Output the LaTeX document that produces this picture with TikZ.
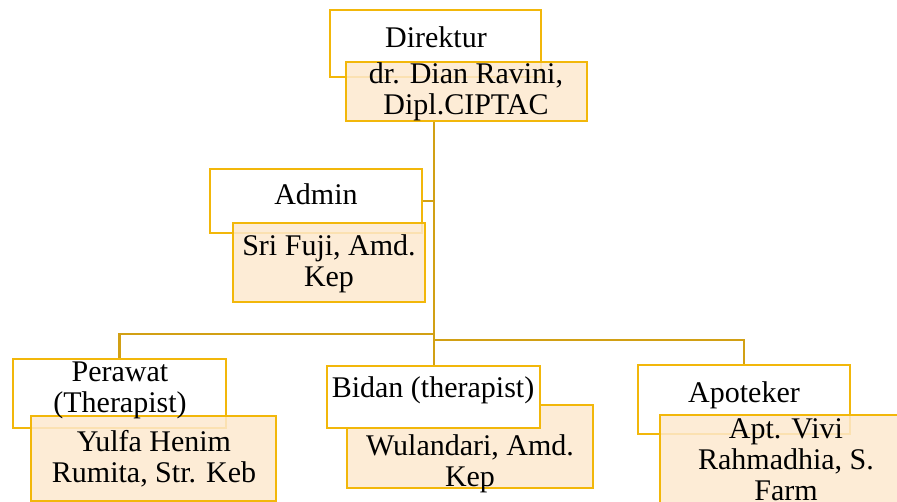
\documentclass[tikz,border=0pt]{standalone}
\usepackage{fontspec}
\setmainfont{Liberation Serif}
\usetikzlibrary{fit,backgrounds}
\definecolor{boxline}{RGB}{242,183,10}
\definecolor{linkline}{RGB}{210,160,20}
\definecolor{namefill}{RGB}{253,233,207}

\begin{document}
\begin{tikzpicture}[x=0.75pt,y=-0.75pt,
					titlebox/.style={draw=boxline,line width=2pt,fill=white,inner sep=0pt},
					namebox/.style={draw=boxline,line width=2pt,fill=namefill,fill opacity=0.85,draw opacity=1,inner sep=0pt},
					txt/.style={align=center,inner sep=0pt,font=\fontsize{22.5}{23.3}\selectfont},
					link/.style={draw=linkline,line width=1.7pt}]
					\useasboundingbox (0,0) rectangle (897,502);
					\clip (0,0) rectangle (897,502);
					
					% junctions of the trunk
					\coordinate (jL) at (434,334);
					\coordinate (jR) at (434,340);
					
					% boxes
					\node[titlebox,fit={(330,10) (541,77)}]   (dirT) {};
					\node[namebox,fit={(346,62) (587,121)}]   (dirN) {};
					\node[titlebox,fit={(210,169) (422,233)}] (admT) {};
					\node[namebox,fit={(233,223) (425,302)}]  (admN) {};
					\node[titlebox,fit={(13,359) (226,428)}]  (perT) {};
					\node[namebox,fit={(31,416) (276,501)}]   (perN) {};
					\node[namebox,fit={(347,405) (593,488)}]  (bidN) {};
					\node[titlebox,fit={(327,366) (540,428)}] (bidT) {};
					\node[titlebox,fit={(638,365) (850,434)}] (apoT) {};
					\node[namebox,fit={(660,415) (912,530)}]  (apoN) {};
					
					% connectors
					\begin{scope}[on background layer]
					\draw[link] (dirN.south -| jR) -- (jR);
					\draw[link] (admT.east) -- (admT.east -| jL);
					\draw[link] (jL) -| (perT.north);
					\draw[link] (jR) -| (apoT.north);
					\draw[link] (jR) -- (bidT.north -| jR);
					\end{scope}
					
					% texts
					\node[txt] (dirTt) at (436,37)  {Direktur};
					\node[txt] (dirNt) at (466,92)  {dr. Dian Ravini,\\Dipl.CIPTAC};
					\node[txt] (admTt) at (316,194) {Admin};
					\node[txt] (admNt) at (329,264) {Sri Fuji, Amd.\\Kep};
					\node[txt] (perTt) at (120,390) {Perawat\\(Therapist)};
					\node[txt] (perNt) at (154,459) {Yulfa Henim\\Rumita, Str. Keb};
					\node[txt] (bidTt) at (433,390) {Bidan (therapist)};
					\node[txt] (bidNt) at (470,464) {Wulandari, Amd.\\Kep};
					\node[txt] (apoTt) at (744,395) {Apoteker};
					\node[txt] (apoNt) at (786,460) {Apt. Vivi\\Rahmadhia, S.\\Farm};
\end{tikzpicture}
\end{document}
